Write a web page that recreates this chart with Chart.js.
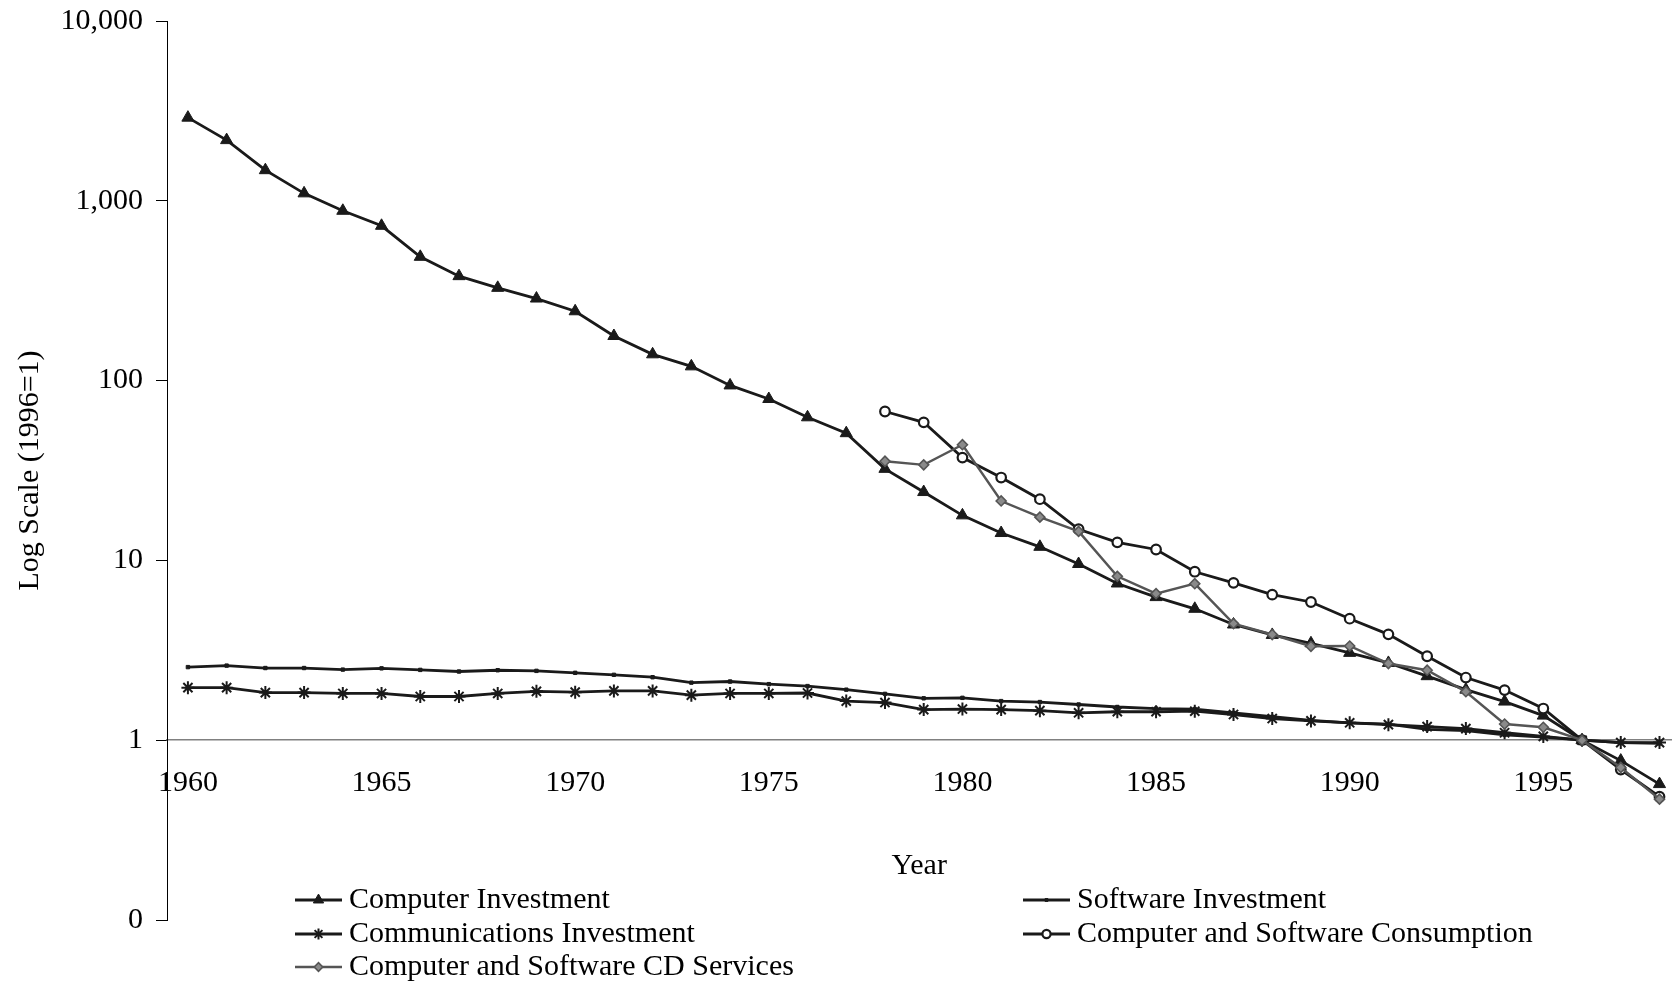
<!DOCTYPE html>
<html>
<head>
<meta charset="utf-8">
<script src="https://cdn.jsdelivr.net/npm/chart.js@4/dist/chart.umd.min.js"></script>
<style>
  html, body { margin: 0; padding: 0; background: #fff; }
  #wrap { width: 1680px; height: 986px; position: relative; }
</style>
</head>
<body>
<div id="wrap"><canvas id="prices"></canvas></div>
<script>
// anos 1960–1998
const years = [1960,1961,1962,1963,1964,1965,1966,1967,1968,1969,1970,1971,1972,1973,1974,1975,1976,1977,1978,1979,
               1980,1981,1982,1983,1984,1985,1986,1987,1988,1989,1990,1991,1992,1993,1994,1995,1996,1997,1998];
const yearsLate = [1978,1979,1980,1981,1982,1983,1984,1985,1986,1987,1988,1989,1990,1991,1992,1993,1994,1995,1996,1997,1998];

const computerInv = [2900,2175,1480,1100,880,726,488,381,328,286,243,177,140,120,94,79,62.5,51,32.3,24,
                     17.8,14.2,11.9,9.55,7.44,6.25,5.38,4.4,3.85,3.46,3.06,2.69,2.27,1.91,1.64,1.37,1,0.77,0.57];
const softwareInv = [2.55,2.60,2.52,2.52,2.47,2.51,2.46,2.41,2.45,2.43,2.37,2.31,2.24,2.09,2.12,2.05,2.0,1.91,1.81,1.71,
                     1.72,1.65,1.63,1.58,1.53,1.50,1.49,1.42,1.35,1.29,1.25,1.23,1.15,1.13,1.07,1.04,1,0.97,0.96];
const commInv     = [1.96,1.96,1.84,1.84,1.82,1.82,1.75,1.75,1.82,1.87,1.85,1.88,1.88,1.78,1.82,1.82,1.83,1.65,1.62,1.48,
                     1.49,1.48,1.46,1.42,1.44,1.44,1.45,1.39,1.32,1.28,1.25,1.22,1.19,1.16,1.10,1.05,1,0.97,0.97];
const consumption = [67.3,58.6,37.3,28.9,21.9,14.9,12.6,11.5,8.65,7.5,6.45,5.87,4.74,3.88,2.93,2.23,1.9,1.5,1,0.687,0.485];
const cdServices  = [35.6,34.0,44.0,21.4,17.4,14.5,8.15,6.53,7.42,4.45,3.87,3.33,3.34,2.67,2.45,1.86,1.23,1.18,1,0.705,0.47];

const xTicks = [1960,1965,1970,1975,1980,1985,1990,1995];
const yTicks = [0.1,1,10,100,1000,10000];

const FONT = 'Liberation Serif, "Times New Roman", serif';
const INK = '#1a1a1a';

const pts = (xs, ys) => xs.map((x, i) => ({ x, y: ys[i] }));

const serie = (label, data, extra) => Object.assign({
  label, data,
  borderColor: INK, backgroundColor: INK, borderWidth: 2.8,
  pointBackgroundColor: INK, pointBorderColor: INK, pointBorderWidth: 1,
  tension: 0, fill: false
}, extra);

const datasets = [
  serie('Computer Investment', pts(years, computerInv), { pointStyle: 'triangle', pointRadius: 7, order: 5 }),
  serie('Software Investment', pts(years, softwareInv), { pointStyle: 'rect', pointRadius: 2.4, order: 4 }),
  serie('Communications Investment', pts(years, commInv), { pointStyle: 'star', pointRadius: 6.5, pointBorderWidth: 2, order: 3 }),
  serie('Computer and Software Consumption', pts(yearsLate, consumption), {
    pointStyle: 'circle', pointRadius: 4.8, pointBorderWidth: 2.2, pointBackgroundColor: '#fff', order: 2 }),
  serie('Computer and Software CD Services', pts(yearsLate, cdServices), {
    borderColor: '#555', borderWidth: 2.4, pointStyle: 'rectRot', pointRadius: 5,
    pointBackgroundColor: '#8a8a8a', pointBorderColor: '#555', pointBorderWidth: 1.6, order: 1 })
];

// legenda em duas colunas (Excel), desenhada no canvas
const legendPos = { cols: [295, 1023], rows: [900, 934, 967], sym: 47, gap: 7 };
const twoColLegend = {
  id: 'twoColLegend',
  afterDraw(chart) {
    const ctx = chart.ctx;
    chart.data.datasets.forEach((ds, i) => {
      const x0 = legendPos.cols[i % 2], y = legendPos.rows[Math.floor(i / 2)];
      ctx.save();
      ctx.strokeStyle = ds.borderColor; ctx.lineWidth = ds.borderWidth;
      ctx.beginPath(); ctx.moveTo(x0, y); ctx.lineTo(x0 + legendPos.sym, y); ctx.stroke();
      ctx.fillStyle = ds.pointBackgroundColor; ctx.strokeStyle = ds.pointBorderColor; ctx.lineWidth = ds.pointBorderWidth;
      Chart.helpers.drawPoint(ctx, { pointStyle: ds.pointStyle, radius: ds.pointRadius * 0.85, rotation: 0, borderWidth: ds.pointBorderWidth },
        x0 + legendPos.sym / 2, y);
      ctx.fillStyle = '#000'; ctx.font = '30px ' + FONT; ctx.textBaseline = 'middle'; ctx.textAlign = 'left';
      ctx.fillText(ds.label, x0 + legendPos.sym + legendPos.gap, y);
      ctx.restore();
    });
  }
};

new Chart(document.getElementById('prices').getContext('2d'), {
  type: 'line',
  data: { datasets },
  plugins: [twoColLegend],
  options: {
    responsive: true, maintainAspectRatio: false, animation: false,
    layout: { padding: { top: 21, bottom: 66, left: 0, right: 0 } },
    plugins: { legend: { display: false }, tooltip: { enabled: false } },
    scales: {
      x: {
        type: 'linear', min: 1959.46, max: 1998.31,
        position: { y: 1 },
        afterBuildTicks: (s) => { s.ticks = xTicks.map(v => ({ value: v })); },
        grid: { display: false, drawTicks: false },
        border: { display: true, color: '#808080', width: 1.5 },
        ticks: { color: '#000', font: { family: FONT, size: 30 }, padding: 25, maxRotation: 0, callback: (v) => String(v) },
        title: { display: true, text: 'Year', color: '#000', font: { family: FONT, size: 30 }, padding: { top: 22, bottom: 0 } }
      },
      y: {
        type: 'logarithmic', min: 0.1, max: 10000,
        afterBuildTicks: (s) => { s.ticks = yTicks.map(v => ({ value: v })); },
        afterFit: (s) => { s.width = 167; s.paddingTop = 0; s.paddingBottom = 0; },
        grid: { drawOnChartArea: false, drawTicks: true, tickLength: 11, color: '#000' },
        border: { display: true, color: '#000', width: 1 },
        ticks: {
          color: '#000', font: { family: FONT, size: 30 }, padding: 13,
          callback: (v) => v < 1 ? '0' : Number(v).toLocaleString('en-US')
        },
        title: { display: true, text: 'Log Scale (1996=1)', color: '#000', font: { family: FONT, size: 30 }, padding: { top: 12, bottom: 0 } }
      }
    }
  }
});
</script>
</body>
</html>
